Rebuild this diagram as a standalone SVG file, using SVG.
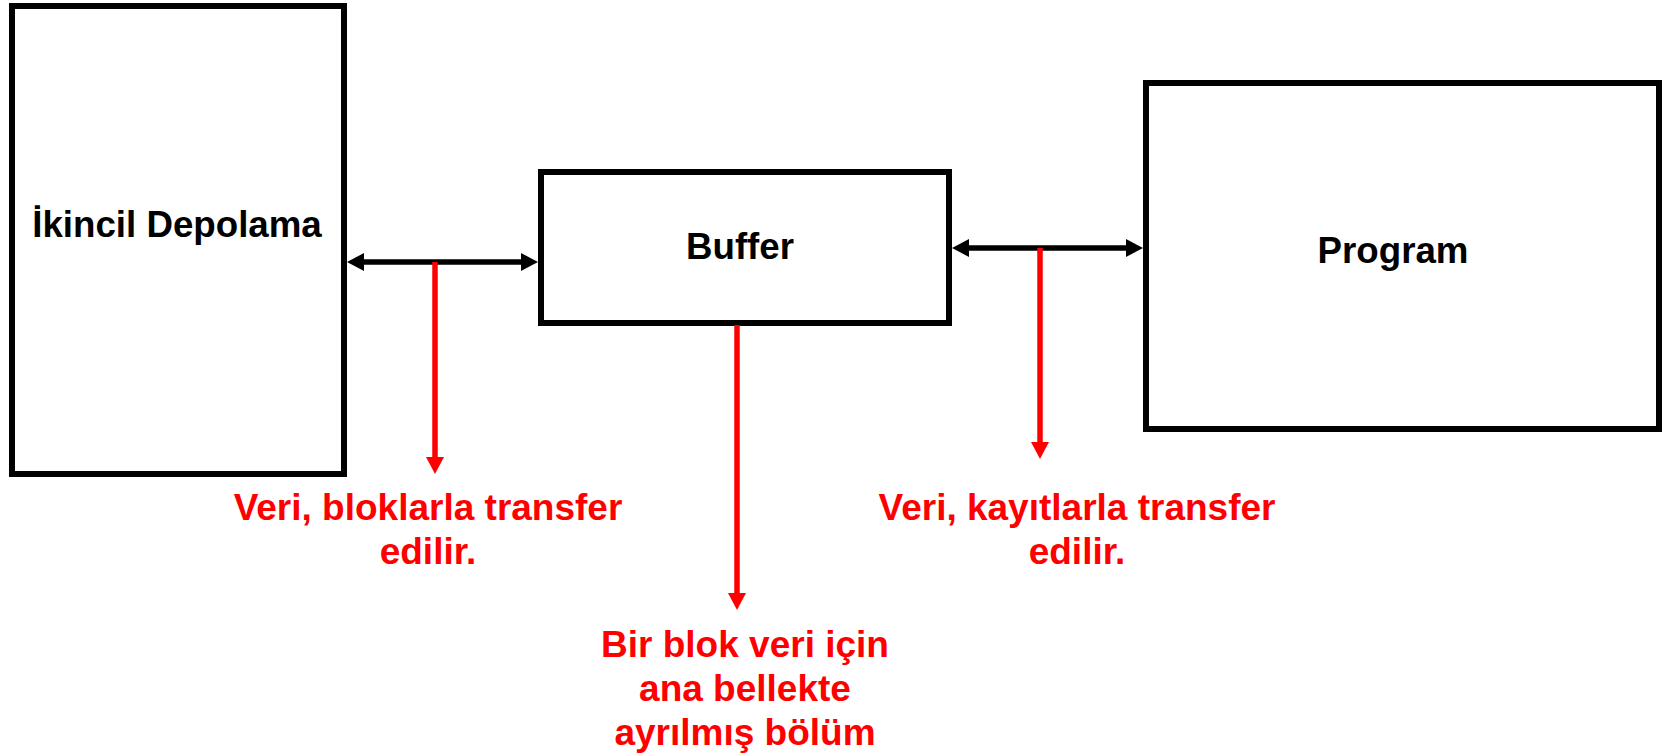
<svg xmlns="http://www.w3.org/2000/svg" width="1667" height="755" viewBox="0 0 1667 755">
  <style>
    .box { fill: #ffffff; stroke: #000000; stroke-width: 6; }
    .title { font-family: "Liberation Sans", Arial, sans-serif; font-weight: bold; font-size: 36.7px; fill: #000000; text-anchor: middle; }
    .note { font-family: "Liberation Sans", Arial, sans-serif; font-weight: bold; font-size: 37px; fill: #ff0000; text-anchor: middle; }
    .link { stroke: #000000; stroke-width: 5.5; fill: none; }
    .pointer { stroke: #ff0000; stroke-width: 5.5; fill: none; }
  </style>
  <defs>
    <marker id="headBlack" markerUnits="userSpaceOnUse" markerWidth="17" markerHeight="19" viewBox="0 0 17 19" refX="8" refY="9.5" orient="auto-start-reverse">
      <path d="M0,0.5 L17,9.5 L0,18.5 z" fill="#000000"/>
    </marker>
    <marker id="headRed" markerUnits="userSpaceOnUse" markerWidth="17" markerHeight="18" viewBox="0 0 17 18" refX="8" refY="9" orient="auto">
      <path d="M0,0 L17,9 L0,18 z" fill="#ff0000"/>
    </marker>
  </defs>

  <rect width="1667" height="755" fill="#ffffff"/>

  <g id="ikincil-depolama">
    <rect class="box" x="12" y="6" width="332" height="468"/>
    <text class="title" x="177" y="237">İkincil Depolama</text>
  </g>

  <g id="buffer">
    <rect class="box" x="541" y="172" width="408" height="151"/>
    <text class="title" x="740" y="259">Buffer</text>
  </g>

  <g id="program">
    <rect class="box" x="1146" y="83" width="513" height="346"/>
    <text class="title" x="1393" y="263">Program</text>
  </g>

  <g id="connectors">
    <!-- two-way transfer links -->
    <line class="link" x1="356" y1="262" x2="529" y2="262" marker-start="url(#headBlack)" marker-end="url(#headBlack)"/>
    <line class="link" x1="961" y1="248" x2="1134" y2="248" marker-start="url(#headBlack)" marker-end="url(#headBlack)"/>
    <!-- explanatory pointers -->
    <line class="pointer" x1="435" y1="262" x2="435" y2="465" marker-end="url(#headRed)"/>
    <line class="pointer" x1="1040" y1="248" x2="1040" y2="450" marker-end="url(#headRed)"/>
    <line class="pointer" x1="737" y1="325" x2="737" y2="601" marker-end="url(#headRed)"/>
  </g>

  <g id="note-blocks">
    <text class="note" x="428" y="520">Veri, bloklarla transfer</text>
    <text class="note" x="428" y="564">edilir.</text>
  </g>

  <g id="note-records">
    <text class="note" x="1077" y="520">Veri, kayıtlarla transfer</text>
    <text class="note" x="1077" y="564">edilir.</text>
  </g>

  <g id="note-buffer">
    <text class="note" x="745" y="657">Bir blok veri için</text>
    <text class="note" x="745" y="701">ana bellekte</text>
    <text class="note" x="745" y="745">ayrılmış bölüm</text>
  </g>
</svg>
